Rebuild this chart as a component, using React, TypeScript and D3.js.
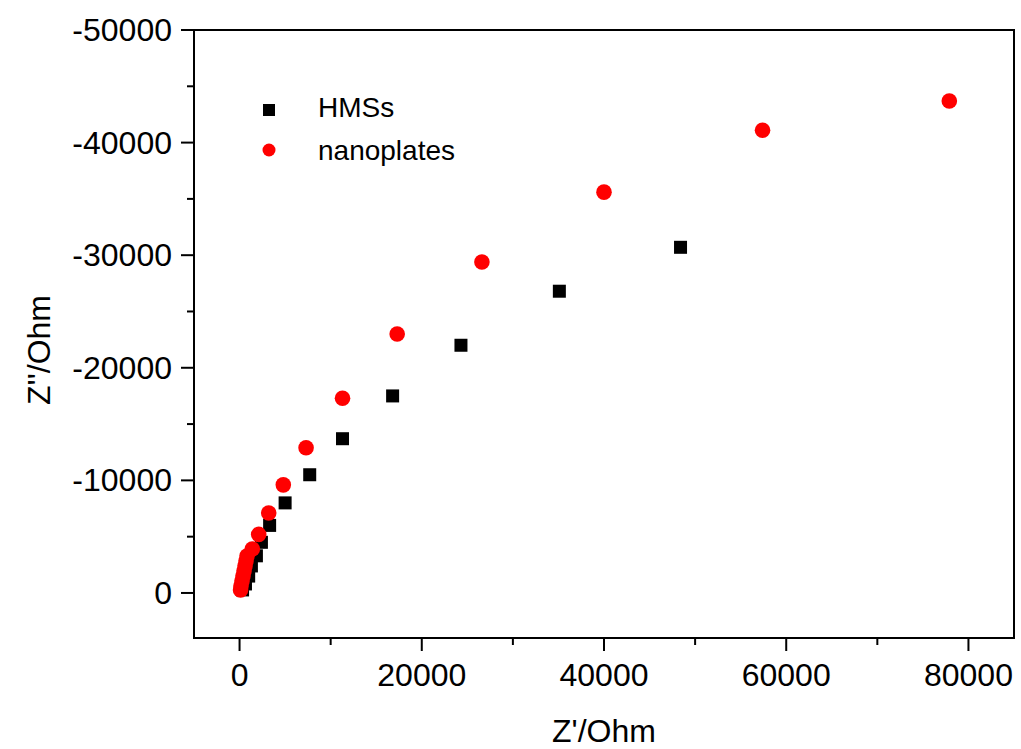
import React from "react";
import * as d3 from "d3";

const hmsX = [48400, 35100, 24300, 16800, 11300, 7700, 5000, 3300, 2400, 1850, 1300, 1000, 650, 330];
const hmsY = [-30700, -26800, -22000, -17500, -13700, -10500, -8000, -6000, -4500, -3300, -2400, -1500, -800, -270];

const nanoX = [77900, 57400, 40000, 26600, 17300, 11300, 7300, 4800, 3200, 2100, 1400, 820, 710, 600, 490, 380, 270, 160, 110];
const nanoY = [-43700, -41100, -35600, -29400, -23000, -17300, -12900, -9600, -7100, -5200, -3900, -3280, -2840, -2390, -1950, -1510, -1060, -620, -270];

const xMajorTicks = [0, 20000, 40000, 60000, 80000];
const xMinorTicks = [10000, 30000, 50000, 70000];
const yMajorTicks = [-50000, -40000, -30000, -20000, -10000, 0];
const yMinorTicks = [-45000, -35000, -25000, -15000, -5000];

const seriesNames = ["HMSs", "nanoplates"];

const W = 1021;
const H = 749;
const left = 194;
const right = 1014;
const top = 30;
const bottom = 638;
const FONT = "'Liberation Sans', Arial, sans-serif";

export default function App() {
  const x = d3.scaleLinear().domain([-5000, 85000]).range([left, right]);
  const y = d3.scaleLinear().domain([4000, -50000]).range([bottom, top]);
  const sq = 13;
  const r = 7.8;

  return (
    <svg width={W} height={H} style={{ position: "absolute", left: 0, top: 0, background: "#fff" }}>
      <rect x={0} y={0} width={W} height={H} fill="#fff" />
      <rect x={left} y={top} width={right - left} height={bottom - top} fill="none" stroke="#000" strokeWidth={2} />
      {xMajorTicks.map((t) => (
        <g key={"xm" + t}>
          <line x1={x(t)} x2={x(t)} y1={bottom} y2={bottom + 13} stroke="#000" strokeWidth={2} />
          <text x={x(t)} y={bottom + 48} textAnchor="middle" fontFamily={FONT} fontSize={32} fill="#000">
            {t}
          </text>
        </g>
      ))}
      {xMinorTicks.map((t) => (
        <line key={"xn" + t} x1={x(t)} x2={x(t)} y1={bottom} y2={bottom + 7} stroke="#000" strokeWidth={2} />
      ))}
      {yMajorTicks.map((t) => (
        <g key={"ym" + t}>
          <line x1={left - 13} x2={left} y1={y(t)} y2={y(t)} stroke="#000" strokeWidth={2} />
          <text x={left - 22} y={y(t) + 11} textAnchor="end" fontFamily={FONT} fontSize={32} fill="#000">
            {t}
          </text>
        </g>
      ))}
      {yMinorTicks.map((t) => (
        <line key={"yn" + t} x1={left - 7} x2={left} y1={y(t)} y2={y(t)} stroke="#000" strokeWidth={2} />
      ))}
      <text x={(left + right) / 2} y={742} textAnchor="middle" fontFamily={FONT} fontSize={32} fill="#000">
        Z'/Ohm
      </text>
      <text
        transform={`translate(50, ${(top + bottom) / 2 + 16}) rotate(-90)`}
        textAnchor="middle"
        fontFamily={FONT}
        fontSize={32}
        fill="#000"
      >
        Z''/Ohm
      </text>
      {hmsX.map((v, i) => (
        <rect key={"h" + i} x={x(v) - sq / 2} y={y(hmsY[i]) - sq / 2} width={sq} height={sq} fill="#000" />
      ))}
      {nanoX.map((v, i) => (
        <circle key={"n" + i} cx={x(v)} cy={y(nanoY[i])} r={r} fill="#ff0000" />
      ))}
      <rect x={263} y={104} width={12} height={12} fill="#000" />
      <text x={318} y={117} fontFamily={FONT} fontSize={28} fill="#000">
        {seriesNames[0]}
      </text>
      <circle cx={269} cy={150} r={6.5} fill="#ff0000" />
      <text x={318} y={160} fontFamily={FONT} fontSize={28} fill="#000">
        {seriesNames[1]}
      </text>
    </svg>
  );
}
